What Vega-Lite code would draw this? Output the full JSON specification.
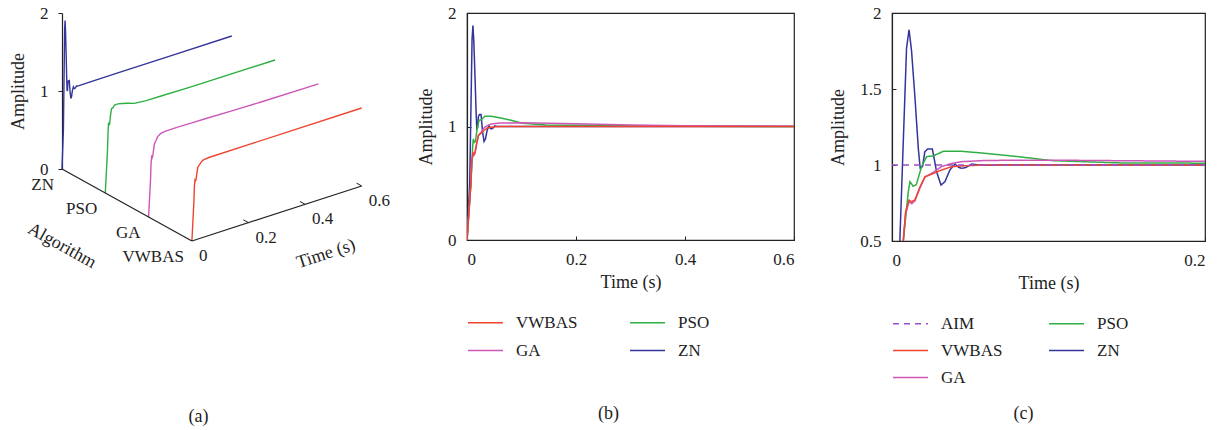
{
  "$schema": "https://vega.github.io/schema/vega-lite/v6.json",
  "autosize": {"type": "pad"},
  "padding": {"left": 9, "top": 3, "right": 0, "bottom": 0},
  "background": "white",
  "spacing": 98,
  "bounds": "flush",
  "resolve": {"scale": {"color": "independent", "strokeDash": "independent"}, "legend": {"color": "independent", "strokeDash": "independent"}},
  "config": {
    "font": "Liberation Serif",
    "view": {"stroke": "#222", "strokeWidth": 1.2},
    "axis": {"grid": false, "domainColor": "#222", "tickColor": "#222", "labelColor": "#222", "titleColor": "#222", "labelFont": "Liberation Serif", "titleFont": "Liberation Serif", "labelFontSize": 17, "titleFontSize": 18, "titleFontWeight": "normal", "domainWidth": 1.2},
    "legend": {"labelFont": "Liberation Serif", "labelFontSize": 17, "labelColor": "#222", "symbolType": "stroke", "symbolSize": 1225, "symbolStrokeWidth": 1.6, "labelOffset": 12, "direction": "horizontal"},
    "title": {"font": "Liberation Serif", "fontSize": 18, "fontWeight": "normal", "color": "#222"},
    "text": {"font": "Liberation Serif", "color": "#222"}
  },
  "datasets": {
    "resp": [
      {"alg": "ZN", "t": 0, "A": 0},
      {"alg": "ZN", "t": 0.005, "A": 0.5},
      {"alg": "ZN", "t": 0.0093, "A": 1.77},
      {"alg": "ZN", "t": 0.0109, "A": 1.89},
      {"alg": "ZN", "t": 0.0125, "A": 1.75},
      {"alg": "ZN", "t": 0.0147, "A": 1.44},
      {"alg": "ZN", "t": 0.0168, "A": 1.11},
      {"alg": "ZN", "t": 0.018, "A": 0.98},
      {"alg": "ZN", "t": 0.0195, "A": 0.99},
      {"alg": "ZN", "t": 0.021, "A": 1.088},
      {"alg": "ZN", "t": 0.0228, "A": 1.105},
      {"alg": "ZN", "t": 0.0258, "A": 1.105},
      {"alg": "ZN", "t": 0.0285, "A": 0.956},
      {"alg": "ZN", "t": 0.0313, "A": 0.868},
      {"alg": "ZN", "t": 0.0338, "A": 0.89},
      {"alg": "ZN", "t": 0.037, "A": 0.967},
      {"alg": "ZN", "t": 0.0403, "A": 1.006},
      {"alg": "ZN", "t": 0.0425, "A": 0.985},
      {"alg": "ZN", "t": 0.0445, "A": 0.978},
      {"alg": "ZN", "t": 0.0475, "A": 0.985},
      {"alg": "ZN", "t": 0.051, "A": 1.006},
      {"alg": "ZN", "t": 0.0553, "A": 1.0},
      {"alg": "ZN", "t": 0.06, "A": 0.999},
      {"alg": "ZN", "t": 0.1, "A": 1.0},
      {"alg": "ZN", "t": 0.2, "A": 1.0},
      {"alg": "ZN", "t": 0.4, "A": 1.0},
      {"alg": "ZN", "t": 0.6, "A": 1.0},
      {"alg": "PSO", "t": 0, "A": 0},
      {"alg": "PSO", "t": 0.0072, "A": 0.5},
      {"alg": "PSO", "t": 0.0104, "A": 0.824},
      {"alg": "PSO", "t": 0.0115, "A": 0.89},
      {"alg": "PSO", "t": 0.0135, "A": 0.86},
      {"alg": "PSO", "t": 0.0155, "A": 0.87},
      {"alg": "PSO", "t": 0.0189, "A": 0.989},
      {"alg": "PSO", "t": 0.0221, "A": 1.055},
      {"alg": "PSO", "t": 0.0264, "A": 1.06},
      {"alg": "PSO", "t": 0.0328, "A": 1.09},
      {"alg": "PSO", "t": 0.0445, "A": 1.09},
      {"alg": "PSO", "t": 0.0594, "A": 1.077},
      {"alg": "PSO", "t": 0.0807, "A": 1.055},
      {"alg": "PSO", "t": 0.102, "A": 1.029},
      {"alg": "PSO", "t": 0.1446, "A": 1.014},
      {"alg": "PSO", "t": 0.2, "A": 1.012},
      {"alg": "PSO", "t": 0.3, "A": 1.005},
      {"alg": "PSO", "t": 0.6, "A": 1.0},
      {"alg": "GA", "t": 0, "A": 0},
      {"alg": "GA", "t": 0.0072, "A": 0.5},
      {"alg": "GA", "t": 0.0087, "A": 0.68},
      {"alg": "GA", "t": 0.0109, "A": 0.76},
      {"alg": "GA", "t": 0.0126, "A": 0.745},
      {"alg": "GA", "t": 0.0147, "A": 0.765},
      {"alg": "GA", "t": 0.0179, "A": 0.85},
      {"alg": "GA", "t": 0.0211, "A": 0.92},
      {"alg": "GA", "t": 0.0254, "A": 0.945},
      {"alg": "GA", "t": 0.0317, "A": 0.99},
      {"alg": "GA", "t": 0.0381, "A": 1.01},
      {"alg": "GA", "t": 0.0445, "A": 1.022},
      {"alg": "GA", "t": 0.06, "A": 1.03},
      {"alg": "GA", "t": 0.1, "A": 1.032},
      {"alg": "GA", "t": 0.15, "A": 1.028},
      {"alg": "GA", "t": 0.2, "A": 1.024},
      {"alg": "GA", "t": 0.3, "A": 1.014},
      {"alg": "GA", "t": 0.4, "A": 1.007},
      {"alg": "GA", "t": 0.6, "A": 1.002},
      {"alg": "VWBAS", "t": 0, "A": 0},
      {"alg": "VWBAS", "t": 0.0072, "A": 0.5},
      {"alg": "VWBAS", "t": 0.0087, "A": 0.692},
      {"alg": "VWBAS", "t": 0.0109, "A": 0.769},
      {"alg": "VWBAS", "t": 0.0126, "A": 0.758},
      {"alg": "VWBAS", "t": 0.0147, "A": 0.772},
      {"alg": "VWBAS", "t": 0.0179, "A": 0.857},
      {"alg": "VWBAS", "t": 0.0211, "A": 0.923},
      {"alg": "VWBAS", "t": 0.0254, "A": 0.94},
      {"alg": "VWBAS", "t": 0.0317, "A": 0.967},
      {"alg": "VWBAS", "t": 0.0381, "A": 0.989},
      {"alg": "VWBAS", "t": 0.0467, "A": 0.995},
      {"alg": "VWBAS", "t": 0.06, "A": 1.0},
      {"alg": "VWBAS", "t": 0.2, "A": 1.0},
      {"alg": "VWBAS", "t": 0.6, "A": 1.0},
      {"alg": "AIM", "t": 0, "A": 1.0},
      {"alg": "AIM", "t": 0.2, "A": 1.0}
    ]
  },
  "hconcat": [
    {
      "width": 307,
      "height": 156,
      "view": {"stroke": null},
      "title": {"text": "(a)", "orient": "bottom", "offset": 136, "anchor": "middle", "dx": -17},
      "layer": [
        {
          "data": {"name": "resp"},
          "transform": [
            {"filter": "datum.alg !== 'AIM'"},
            {"calculate": "indexof(['ZN','PSO','GA','VWBAS'], datum.alg)", "as": "k"},
            {"calculate": "datum.t + 0.153 * datum.k", "as": "u"},
            {"calculate": "datum.A + 1.176 * datum.t - 0.3077 * datum.k", "as": "v"}
          ],
          "mark": {"type": "line", "clip": false, "strokeWidth": 1.4},
          "encoding": {
            "x": {"field": "u", "type": "quantitative", "scale": {"domain": [0, 1.0848], "nice": false, "zero": false}, "axis": null},
            "y": {"field": "v", "type": "quantitative", "scale": {"domain": [0, 2], "nice": false, "zero": false}, "axis": {"values": [0, 1, 2], "format": "~g", "title": "Amplitude", "tickSize": 4, "labelPadding": 10, "titlePadding": 12}},
            "color": {"field": "alg", "type": "nominal", "scale": {"domain": ["VWBAS", "PSO", "GA", "ZN"], "range": ["#ef4530", "#2fb044", "#cc58b8", "#34349a"]}, "legend": null},
            "detail": {"field": "alg"},
            "order": {"field": "t", "type": "quantitative"}
          }
        },
        {
          "data": {"values": [{"t0": 0, "k0": 0, "t1": 0, "k1": 3}, {"t0": 0, "k0": 3, "t1": 0.6, "k1": 3}]},
          "transform": [
            {"calculate": "datum.t0 + 0.153 * datum.k0", "as": "u0"},
            {"calculate": "1.176 * datum.t0 - 0.3077 * datum.k0", "as": "v0"},
            {"calculate": "datum.t1 + 0.153 * datum.k1", "as": "u1"},
            {"calculate": "1.176 * datum.t1 - 0.3077 * datum.k1", "as": "v1"}
          ],
          "mark": {"type": "rule", "clip": false, "color": "#222", "strokeWidth": 1.2},
          "encoding": {
            "x": {"field": "u0", "type": "quantitative", "axis": null},
            "y": {"field": "v0", "type": "quantitative", "axis": {"values": [0, 1, 2], "format": "~g", "title": "Amplitude", "tickSize": 4, "labelPadding": 10, "titlePadding": 12}},
            "x2": {"field": "u1"},
            "y2": {"field": "v1"}
          }
        },
        {
          "data": {"values": [{"t": 0.2}, {"t": 0.4}, {"t": 0.6}]},
          "transform": [
            {"calculate": "datum.t + 0.153 * 3", "as": "u0"},
            {"calculate": "1.176 * datum.t - 0.3077 * 3", "as": "v0"},
            {"calculate": "datum.t + 0.153 * 2.88", "as": "u1"},
            {"calculate": "1.176 * datum.t - 0.3077 * 2.88", "as": "v1"}
          ],
          "mark": {"type": "rule", "clip": false, "color": "#222", "strokeWidth": 1},
          "encoding": {
            "x": {"field": "u0", "type": "quantitative", "axis": null},
            "y": {"field": "v0", "type": "quantitative", "axis": {"values": [0, 1, 2], "format": "~g", "title": "Amplitude", "tickSize": 4, "labelPadding": 10, "titlePadding": 12}},
            "x2": {"field": "u1"},
            "y2": {"field": "v1"}
          }
        },
        {
          "data": {"values": [{"t": 0, "lab": "0"}, {"t": 0.2, "lab": "0.2"}, {"t": 0.4, "lab": "0.4"}, {"t": 0.6, "lab": "0.6"}]},
          "transform": [
            {"calculate": "datum.t + 0.153 * 3", "as": "u"},
            {"calculate": "1.176 * datum.t - 0.3077 * 3", "as": "v"}
          ],
          "mark": {"type": "text", "clip": false, "align": "left", "baseline": "middle", "dx": 7, "dy": 15, "fontSize": 17},
          "encoding": {
            "x": {"field": "u", "type": "quantitative", "axis": null},
            "y": {"field": "v", "type": "quantitative", "axis": {"values": [0, 1, 2], "format": "~g", "title": "Amplitude", "tickSize": 4, "labelPadding": 10, "titlePadding": 12}},
            "text": {"field": "lab"}
          }
        },
        {
          "data": {"values": [{"k": 0, "lab": "ZN"}, {"k": 1, "lab": "PSO"}, {"k": 2, "lab": "GA"}, {"k": 3, "lab": "VWBAS"}]},
          "transform": [
            {"calculate": "0.153 * datum.k", "as": "u"},
            {"calculate": "-0.3077 * datum.k", "as": "v"}
          ],
          "mark": {"type": "text", "clip": false, "align": "right", "baseline": "middle", "dx": -8, "dy": 16, "fontSize": 17},
          "encoding": {
            "x": {"field": "u", "type": "quantitative", "axis": null},
            "y": {"field": "v", "type": "quantitative", "axis": {"values": [0, 1, 2], "format": "~g", "title": "Amplitude", "tickSize": 4, "labelPadding": 10, "titlePadding": 12}},
            "text": {"field": "lab"}
          }
        },
        {
          "data": {"values": [{"t": 0.2467, "k": 4.485, "lab": "Time (s)"}]},
          "transform": [
            {"calculate": "datum.t + 0.153 * datum.k", "as": "u"},
            {"calculate": "1.176 * datum.t - 0.3077 * datum.k", "as": "v"}
          ],
          "mark": {"type": "text", "clip": false, "align": "center", "baseline": "middle", "angle": 342, "fontSize": 18},
          "encoding": {
            "x": {"field": "u", "type": "quantitative", "axis": null},
            "y": {"field": "v", "type": "quantitative", "axis": {"values": [0, 1, 2], "format": "~g", "title": "Amplitude", "tickSize": 4, "labelPadding": 10, "titlePadding": 12}},
            "text": {"field": "lab"}
          }
        },
        {
          "data": {"values": [{"t": -0.31, "k": 2.025, "lab": "Algorithm"}]},
          "transform": [
            {"calculate": "datum.t + 0.153 * datum.k", "as": "u"},
            {"calculate": "1.176 * datum.t - 0.3077 * datum.k", "as": "v"}
          ],
          "mark": {"type": "text", "clip": false, "align": "center", "baseline": "middle", "angle": 29, "fontSize": 18},
          "encoding": {
            "x": {"field": "u", "type": "quantitative", "axis": null},
            "y": {"field": "v", "type": "quantitative", "axis": {"values": [0, 1, 2], "format": "~g", "title": "Amplitude", "tickSize": 4, "labelPadding": 10, "titlePadding": 12}},
            "text": {"field": "lab"}
          }
        }
      ]
    },
    {
      "width": 327,
      "height": 227,
      "title": {"text": "(b)", "orient": "bottom", "offset": 46, "anchor": "middle", "dx": -22},
      "data": {"name": "resp"},
      "transform": [{"filter": "datum.alg !== 'AIM'"}],
      "mark": {"type": "line", "clip": true, "strokeWidth": 1.5},
      "encoding": {
        "x": {"field": "t", "type": "quantitative", "scale": {"domain": [0, 0.6], "nice": false}, "axis": {"values": [0, 0.2, 0.4, 0.6], "format": "~g", "title": "Time (s)", "tickSize": -4, "labelPadding": 15, "titlePadding": 6}},
        "y": {"field": "A", "type": "quantitative", "scale": {"domain": [0, 2], "nice": false}, "axis": {"values": [0, 1, 2], "format": "~g", "title": "Amplitude", "tickSize": -4, "labelPadding": 15, "titlePadding": 12}},
        "color": {"field": "alg", "type": "nominal", "scale": {"domain": ["VWBAS", "PSO", "GA", "ZN"], "range": ["#ef4530", "#2fb044", "#cc58b8", "#34349a"]}, "legend": {"orient": "none", "legendX": 0, "legendY": 291, "columns": 2, "direction": "horizontal", "title": null, "rowPadding": 1, "columnPadding": 48}},
        "order": {"field": "t", "type": "quantitative"}
      }
    },
    {
      "width": 313,
      "height": 228,
      "title": {"text": "(c)", "orient": "bottom", "offset": 19, "anchor": "middle", "dx": -25},
      "data": {"name": "resp"},
      "mark": {"type": "line", "clip": true, "strokeWidth": 1.5},
      "encoding": {
        "x": {"field": "t", "type": "quantitative", "scale": {"domain": [0, 0.2], "nice": false}, "axis": {"values": [0, 0.2], "format": "~g", "title": "Time (s)", "tickSize": -4, "labelPadding": 15, "titlePadding": 6}},
        "y": {"field": "A", "type": "quantitative", "scale": {"domain": [0.5, 2], "nice": false, "zero": false}, "axis": {"values": [0.5, 1, 1.5, 2], "format": "~g", "title": "Amplitude", "tickSize": -4, "labelPadding": 15, "titlePadding": 12}},
        "color": {"field": "alg", "type": "nominal", "scale": {"domain": ["AIM", "PSO", "VWBAS", "ZN", "GA"], "range": ["#9a50c2", "#2fb044", "#ef4530", "#34349a", "#cc58b8"]}, "legend": {"orient": "none", "legendX": 0, "legendY": 292, "columns": 2, "direction": "horizontal", "title": null, "rowPadding": 0, "columnPadding": 42}},
        "strokeDash": {"field": "alg", "type": "nominal", "scale": {"domain": ["AIM", "PSO", "VWBAS", "ZN", "GA"], "range": [[6, 5], [1, 0], [1, 0], [1, 0], [1, 0]]}, "legend": {"orient": "none", "legendX": 0, "legendY": 292, "columns": 2, "direction": "horizontal", "title": null, "rowPadding": 0, "columnPadding": 42}},
        "order": {"field": "t", "type": "quantitative"}
      }
    }
  ]
}
